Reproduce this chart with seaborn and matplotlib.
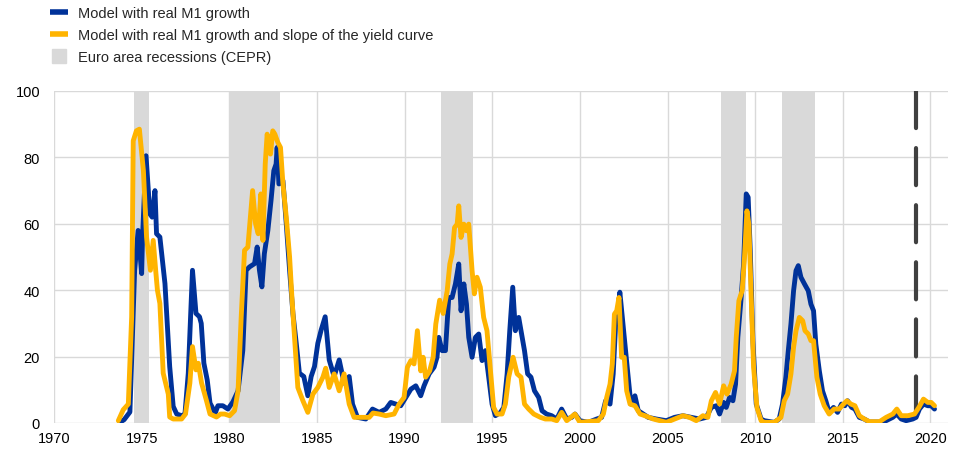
import numpy as np
import pandas as pd
import matplotlib
matplotlib.use("Agg")
import matplotlib.pyplot as plt
from matplotlib.lines import Line2D
import seaborn as sns

# ---------------- data ----------------
m1_years = [1973.76, 1974.0, 1974.33, 1974.6, 1974.8, 1975.0, 1975.05, 1975.25, 1975.47, 1975.6,
            1975.76, 1975.85, 1976.04, 1976.33, 1976.6, 1976.8, 1977.0, 1977.28, 1977.47, 1977.66,
            1977.9, 1978.1, 1978.3, 1978.4, 1978.55, 1978.74, 1978.9, 1979.2, 1979.35, 1979.63,
            1979.92, 1980.2, 1980.5, 1980.77, 1980.96, 1981.15, 1981.44, 1981.59, 1981.72, 1981.86,
            1982.0, 1982.2, 1982.38, 1982.54, 1982.67, 1982.73, 1982.83, 1983.06, 1983.25, 1983.44,
            1983.63, 1983.82, 1984.0, 1984.25, 1984.48, 1984.67, 1984.86, 1985.05, 1985.24, 1985.47,
            1985.7, 1985.98, 1986.27, 1986.55, 1986.84, 1987.03, 1987.31, 1987.79, 1988.17, 1988.55,
            1988.93, 1989.21, 1989.5, 1989.78, 1990.07, 1990.36, 1990.64, 1990.92, 1991.11, 1991.4,
            1991.68, 1991.85, 1991.95, 1992.14, 1992.33, 1992.52, 1992.71, 1992.9, 1993.09, 1993.22,
            1993.38, 1993.53, 1993.66, 1993.85, 1994.04, 1994.23, 1994.42, 1994.61, 1994.8, 1994.99,
            1995.18, 1995.47, 1995.66, 1995.85, 1996.0, 1996.17, 1996.32, 1996.51, 1996.64, 1996.84,
            1997.02, 1997.21, 1997.41, 1997.65, 1997.84, 1998.1, 1998.39, 1998.68, 1998.96, 1999.25,
            1999.53, 1999.72, 2000.0, 2000.48, 2000.96, 2001.24, 2001.47, 2001.72, 2001.9, 2002.04,
            2002.15, 2002.28, 2002.42, 2002.57, 2002.72, 2002.91, 2003.14, 2003.33, 2003.62, 2003.9,
            2004.36, 2004.93, 2005.4, 2005.88, 2006.35, 2006.83, 2007.21, 2007.5, 2007.78, 2007.97,
            2008.2, 2008.35, 2008.54, 2008.73, 2008.88, 2009.01, 2009.2, 2009.34, 2009.49, 2009.6,
            2009.72, 2009.87, 2010.06, 2010.34, 2010.52, 2011.09, 2011.37, 2011.56, 2011.75, 2011.89,
            2012.04, 2012.19, 2012.33, 2012.46, 2012.61, 2012.81, 2013.03, 2013.18, 2013.33, 2013.46,
            2013.66, 2013.84, 2014.03, 2014.22, 2014.47, 2014.7, 2014.92, 2015.12, 2015.27, 2015.5,
            2015.69, 2015.94, 2016.22, 2016.52, 2017.09, 2017.47, 2017.85, 2018.08, 2018.33, 2018.61,
            2018.99, 2019.18, 2019.37, 2019.6, 2019.85, 2020.04, 2020.23]
m1_values = [0.2, 1.0, 3.3, 46, 58, 45, 56, 80.5, 63, 62,
             70, 57, 56, 42, 17, 5, 2.7, 2.2, 2.7, 15,
             46, 33, 32, 30, 18, 13, 6, 3, 5.2, 5.2,
             4.2, 6.3, 9.7, 21.8, 46, 47, 48, 53, 46, 41,
             51, 58, 67, 76, 78, 83, 72, 73, 60, 46,
             33, 24, 15, 14, 8.2, 14, 17, 24, 28, 32,
             19, 14, 19, 12, 14, 5.7, 1.7, 1.2, 4.2, 3.2,
             4.2, 6.2, 5.7, 5.2, 7.7, 10.2, 11.2, 8.2, 11.2, 14.8,
             16.8, 19.8, 25.8, 21.8, 21.8, 37.8, 37.8, 41.9, 47.9, 33.8,
             41.9, 35.8, 25.8, 19.8, 25.8, 26.8, 18.8, 21.8, 13.8, 5.7,
             2.2, 3.2, 4.7, 14.8, 27.8, 40.9, 27.8, 31.8, 27.8, 21.8,
             14.8, 13.8, 9.7, 7.7, 3.7, 2.7, 2.2, 1.2, 4.2, 1.2,
             1.7, 2.7, 0.7, 0.2, 1.2, 1.7, 6.7, 5.7, 14.8, 29.8,
             32.8, 39.4, 31.8, 23.8, 15.7, 5.7, 8.2, 3.7, 2.7, 1.7,
             1.2, 0.7, 1.7, 2.2, 1.7, 1.2, 1.7, 4.7, 5.2, 2.7,
             6.2, 4.7, 7.7, 6.7, 11.7, 25.8, 37.8, 47.9, 69, 68,
             51.9, 24.8, 5.7, 1.2, 0.7, 0.2, 1.2, 5.7, 13.8, 21.8,
             29.8, 39.8, 45.9, 47.4, 43.9, 41.9, 39.8, 35.8, 33.8, 23.8,
             15.7, 9.7, 6.7, 3.2, 4.7, 3.2, 5.7, 5.2, 6.7, 4.7,
             4.2, 1.7, 1.2, 0.3, 0.3, 0.7, 1.7, 2.7, 1.2, 0.7,
             1.2, 1.7, 4.2, 5.7, 5.2, 5.2, 4.2]

slope_years = [1973.67, 1973.95, 1974.24, 1974.43, 1974.52, 1974.7, 1974.87, 1975.1, 1975.28, 1975.43,
               1975.5, 1975.66, 1975.8, 1975.9, 1976.04, 1976.23, 1976.52, 1976.6, 1976.8, 1977.28,
               1977.5, 1977.75, 1977.9, 1978.1, 1978.23, 1978.42, 1978.7, 1978.9, 1979.27, 1979.5,
               1979.73, 1980.02, 1980.3, 1980.5, 1980.68, 1980.87, 1981.06, 1981.2, 1981.33, 1981.5,
               1981.65, 1981.8, 1981.92, 1982.05, 1982.16, 1982.35, 1982.48, 1982.6, 1982.77, 1982.92,
               1983.06, 1983.25, 1983.44, 1983.57, 1983.72, 1983.91, 1984.2, 1984.48, 1984.77, 1985.05,
               1985.34, 1985.5, 1985.7, 1985.98, 1986.27, 1986.55, 1986.84, 1987.12, 1987.6, 1987.98,
               1988.2, 1988.55, 1988.93, 1989.4, 1989.69, 1989.97, 1990.16, 1990.36, 1990.54, 1990.73,
               1990.92, 1991.06, 1991.2, 1991.43, 1991.63, 1991.78, 1992.0, 1992.2, 1992.43, 1992.58,
               1992.71, 1992.85, 1993.0, 1993.09, 1993.22, 1993.38, 1993.53, 1993.66, 1993.85, 1993.98,
               1994.13, 1994.32, 1994.51, 1994.7, 1994.9, 1995.08, 1995.27, 1995.56, 1995.75, 1995.94,
               1996.19, 1996.42, 1996.64, 1996.84, 1997.08, 1997.37, 1997.75, 1998.03, 1998.39, 1998.68,
               1998.96, 1999.25, 1999.72, 2000.0, 2001.05, 2001.34, 2001.53, 2001.72, 2001.85, 2001.97,
               2002.1, 2002.23, 2002.38, 2002.53, 2002.67, 2002.86, 2003.14, 2003.43, 2003.71, 2004.19,
               2004.93, 2005.4, 2005.88, 2006.25, 2006.64, 2007.02, 2007.3, 2007.5, 2007.74, 2007.97,
               2008.2, 2008.39, 2008.63, 2008.82, 2008.92, 2009.07, 2009.26, 2009.39, 2009.53, 2009.64,
               2009.78, 2009.91, 2010.1, 2010.34, 2010.52, 2011.09, 2011.47, 2011.66, 2011.85, 2012.04,
               2012.19, 2012.33, 2012.52, 2012.71, 2012.84, 2013.03, 2013.18, 2013.33, 2013.52, 2013.71,
               2013.94, 2014.22, 2014.5, 2014.79, 2015.04, 2015.23, 2015.46, 2015.69, 2015.94, 2016.22,
               2016.52, 2017.09, 2017.47, 2017.85, 2018.08, 2018.33, 2018.71, 2019.09, 2019.34, 2019.6,
               2019.85, 2020.04, 2020.23]
slope_values = [0.7, 4, 5.7, 32, 85, 88, 88.5, 76, 56, 49,
                46, 55, 46, 40, 36, 15, 8.7, 1.8, 1.2, 1.2,
                2.7, 12, 23, 16, 18, 12, 6.7, 2.7, 1.8, 2.7,
                2.7, 2.2, 3.7, 9.7, 32, 52, 53, 62, 70, 60,
                57, 69, 55, 78, 87, 81, 88, 87, 84.5, 83,
                72, 62, 50, 38, 26, 10.7, 6.7, 3.2, 8.7, 10.7,
                13.8, 16.5, 10.7, 14.8, 9.7, 14.8, 5.7, 1.7, 1.7, 1.7,
                3.0, 2.7, 2.2, 2.7, 5.7, 7.7, 16.8, 18.8, 17.8, 27.8,
                15.7, 19.8, 13.8, 15.7, 19.8, 29.8, 37, 33, 39.8, 47.9,
                50.9, 58.9, 59.9, 65.4, 55.9, 59.9, 57.9, 59.9, 45.9, 38.9,
                43.9, 40.9, 31.8, 27.8, 15.7, 4.7, 2.7, 2.7, 5.7, 13.8,
                19.8, 14.8, 13.8, 5.7, 4.2, 2.7, 1.7, 1.2, 1.2, 0.7,
                3.2, 0.7, 2.7, 0.2, 0.7, 2.7, 7.7, 11.7, 17.8, 32.8,
                33.8, 37.8, 19.8, 19.8, 9.7, 5.7, 5.2, 2.7, 2.2, 1.2,
                0.2, 1.2, 2.2, 1.7, 0.7, 2.2, 1.7, 6.7, 9.2, 5.7,
                11.2, 8.7, 11.7, 15.7, 25.8, 36.8, 39.9, 49.9, 63.9, 59.9,
                36.8, 16.8, 4.7, 0.7, 0.2, 0.2, 1.7, 6.7, 8.7, 14.8,
                22.8, 27.8, 31.8, 30.8, 27.8, 26.8, 24.8, 24.8, 13.8, 8.7,
                5.2, 2.7, 4.2, 4.2, 5.7, 6.7, 5.7, 5.2, 2.2, 1.2,
                0.4, 0.4, 1.7, 2.7, 4.2, 2.2, 2.2, 2.7, 4.7, 7.2,
                6.2, 6.2, 5.2]

recession_start = [1974.55, 1980.0, 1992.05, 2008.05, 2011.55]
recession_end = [1975.42, 1982.92, 1993.93, 2009.45, 2013.44]
forecast_date = 2019.16

series_names = ["Model with real M1 growth",
                "Model with real M1 growth and slope of the yield curve"]
recession_label = "Euro area recessions (CEPR)"
x_ticks = list(range(1970, 2021, 5))
y_ticks = [0, 20, 40, 60, 80, 100]

# ---------------- style ----------------
BLUE = "#003299"
YELLOW = "#FFB400"
GREY = "#d9d9d9"

sns.set_theme(style="white")
plt.rcParams["font.family"] = ["Liberation Sans", "DejaVu Sans"]

df = pd.concat([
    pd.DataFrame({"year": m1_years, "value": m1_values, "series": series_names[0]}),
    pd.DataFrame({"year": slope_years, "value": slope_values, "series": series_names[1]}),
], ignore_index=True)

fig = plt.figure(figsize=(9.6, 4.56), dpi=100)
ax = fig.add_axes([54 / 960, 1 - 424 / 456, (948 - 54) / 960, (424 - 92) / 456])

for s, e in zip(recession_start, recession_end):
    ax.axvspan(s, e, color=GREY, lw=0, zorder=1)

ax.plot([forecast_date, forecast_date], [y_ticks[-1], y_ticks[0]], color="#404040",
        lw=3.0, dashes=(8.9, 4.8), dash_capstyle="round", zorder=2)

sns.lineplot(data=df, x="year", y="value", hue="series",
             palette={series_names[0]: BLUE, series_names[1]: YELLOW},
             estimator=None, lw=3.5, legend=False, ax=ax, zorder=3,
             solid_joinstyle="round", solid_capstyle="round")

ax.set_xlim(1970, 2021)
ax.set_ylim(0, 100)
ax.set_xticks(x_ticks)
ax.set_yticks(y_ticks)
ax.set_xlabel("")
ax.set_ylabel("")
ax.grid(True, color=GREY, lw=1.0, zorder=0)
ax.set_axisbelow(True)
for sp in ax.spines.values():
    sp.set_visible(False)
ax.tick_params(axis="both", length=0, labelsize=10.5, labelcolor="#000000")
ax.tick_params(axis="y", pad=10)
ax.tick_params(axis="x", pad=6)

handles = [Line2D([], [], color=BLUE, lw=4.0, solid_capstyle="butt"),
           Line2D([], [], color=YELLOW, lw=4.0, solid_capstyle="butt"),
           Line2D([], [], color=GREY, marker="s", markersize=10, linestyle="none")]
fig.legend(handles, series_names + [recession_label], loc="upper left",
           bbox_to_anchor=(50 / 960, 1 - 7 / 456), frameon=False, fontsize=10.5,
           handlelength=1.2, handletextpad=0.7, labelspacing=0.55,
           borderpad=0, borderaxespad=0)

fig.savefig("out.png", dpi=100)
